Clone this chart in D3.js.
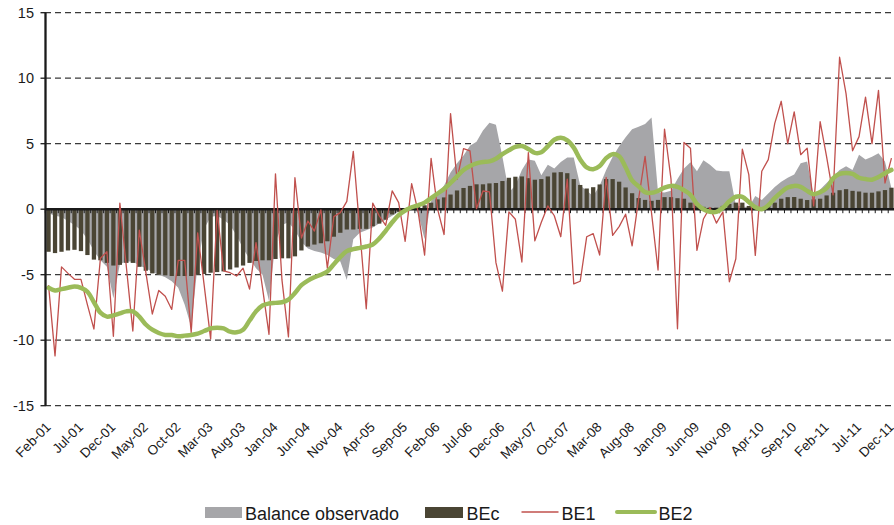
<!DOCTYPE html>
<html>
<head>
<meta charset="utf-8">
<script src="https://cdn.jsdelivr.net/npm/d3@7/dist/d3.min.js"></script>
<style>
  html, body { margin: 0; padding: 0; background: #fff; }
  svg { display: block; }
  text { font-family: "Liberation Sans", Arial, sans-serif; fill: #1a1a1a; }
</style>
</head>
<body>
<svg id="chart" width="894" height="525"></svg>
<script>
// ---------- DATA ----------
const monthNames = ["Jan","Feb","Mar","Apr","May","Jun","Jul","Aug","Sep","Oct","Nov","Dec"];
// Monthly categories Feb-01 .. Dec-11 (131 months)
const categories = d3.range(131).map(i => {
  const m = (1 + i) % 12, y = 1 + Math.floor((1 + i) / 12);
  return monthNames[m] + "-" + String(y).padStart(2, "0");
});
const tickLabels = ["Feb-01","Jul-01","Dec-01","May-02","Oct-02","Mar-03","Aug-03","Jan-04","Jun-04","Nov-04",
  "Apr-05","Sep-05","Feb-06","Jul-06","Dec-06","May-07","Oct-07","Mar-08","Aug-08","Jan-09","Jun-09","Nov-09",
  "Apr-10","Sep-10","Feb-11","Jul-11","Dec-11"];
const yTicks = [15, 10, 5, 0, -5, -10, -15];

const balanceObservado = [
  -0.3,-0.5,-0.6,-0.9,-1.2,-1.6,-2.3,-3.2,-3.9,-4.4,
  -6.8,-4.2,-4.0,-4.0,-4.3,-4.5,-4.8,-5.0,-5.2,-5.5,
  -6.0,-7.3,-9.0,-4.2,-1.5,-0.6,-0.5,-0.8,-1.2,-2.0,
  -3.0,-3.8,-4.5,-5.0,-7.0,-2.5,-1.2,-1.0,-1.6,-2.5,
  -3.0,-3.2,-3.3,-3.5,-3.8,-4.0,-5.4,-2.3,-1.8,-1.6,
  -1.4,-1.1,-0.8,-0.5,-0.2,0.1,0.2,-0.3,-2.3,0.6,
  1.2,1.8,2.8,3.5,4.1,4.85,5.15,6.0,6.6,6.45,
  4.0,1.3,1.8,3.0,3.8,3.7,2.6,3.4,3.1,3.6,
  3.95,3.95,1.8,1.4,1.0,1.8,3.0,4.0,4.8,5.5,
  6.1,6.3,6.5,7.0,1.3,1.28,1.4,2.3,3.1,3.58,
  2.9,3.73,3.4,2.95,2.9,2.9,0.3,0.2,0.15,1.0,
  0.7,1.2,1.7,2.1,2.4,2.65,3.5,3.65,1.0,1.5,
  2.0,2.5,3.0,3.27,3.0,4.15,3.8,4.0,4.28,3.65,1.6
];
const BEc = [
  -3.25,-3.35,-3.25,-3.15,-3.1,-3.2,-3.5,-3.85,-3.9,-4.1,
  -4.3,-4.25,-4.1,-4.1,-4.4,-4.7,-4.9,-5.0,-5.05,-5.1,
  -5.1,-5.1,-5.1,-5.0,-4.95,-4.85,-4.8,-4.75,-4.6,-4.45,
  -4.3,-4.1,-3.95,-3.9,-3.9,-3.8,-3.75,-3.75,-3.6,-3.15,
  -2.85,-2.7,-2.6,-2.45,-2.1,-1.8,-1.55,-1.55,-1.5,-1.5,
  -1.3,-1.1,-0.8,-0.4,-0.2,0.0,0.1,0.2,0.3,0.5,
  0.75,0.9,1.12,1.43,1.62,1.78,1.9,1.9,1.97,2.0,
  2.15,2.4,2.48,2.5,2.37,2.25,2.3,2.5,2.8,2.83,
  2.75,2.3,1.85,1.58,1.68,1.89,2.3,2.3,2.1,1.66,
  1.22,0.85,0.71,0.64,0.71,0.92,0.92,0.84,0.8,0.5,
  0.28,0.18,0.12,0.12,0.25,0.4,0.5,0.5,0.25,0.05,
  0.1,0.25,0.5,0.8,0.92,0.93,0.8,0.7,0.75,0.8,
  1.05,1.26,1.45,1.53,1.4,1.35,1.26,1.26,1.36,1.46,1.64
];
const BE1 = [
  -5.8,-11.2,-4.4,-4.9,-5.35,-5.35,-7.3,-9.15,-3.75,-3.25,
  -9.7,0.47,-4.4,-9.3,-1.6,-4.8,-8.0,-6.2,-6.65,-7.65,
  -3.9,-3.9,-9.4,-1.8,-5.8,-9.9,-0.1,-4.7,-4.85,-5.1,
  -4.5,-6.1,-2.55,-6.0,-9.55,2.7,-5.4,-9.75,2.4,-2.2,
  -0.9,-1.67,-0.05,-4.5,-0.57,-0.26,0.6,4.42,-1.6,-7.6,
  0.47,-0.5,-1.24,1.4,0.5,-2.45,1.95,-0.2,-3.5,3.88,
  0.0,-1.93,7.3,2.27,4.63,4.45,0.04,1.39,1.33,-4.08,
  -6.25,-0.2,-0.77,-4.03,4.32,-2.42,-1.0,0.25,-0.5,-2.1,
  2.3,-5.7,-5.5,-2.1,-1.86,-3.5,2.42,-2.0,-1.33,-0.38,
  -2.8,0.77,4.03,-0.3,-4.64,6.12,2.3,-9.13,5.1,4.66,
  -3.15,-0.75,0.13,-1.06,-0.2,-5.54,-3.78,4.58,2.64,-3.53,
  2.9,3.78,6.55,8.24,5.0,7.43,4.16,4.66,0.25,6.68,
  4.0,1.1,11.6,8.8,4.46,5.54,8.56,5.0,9.07,2.0,3.9
];
const BE2 = [
  -6.0,-6.2,-6.1,-6.0,-5.9,-6.0,-6.3,-7.1,-7.9,-8.2,
  -8.1,-7.95,-7.8,-7.8,-8.2,-8.8,-9.2,-9.45,-9.6,-9.6,
  -9.7,-9.65,-9.6,-9.5,-9.3,-9.1,-9.05,-9.1,-9.35,-9.4,
  -9.2,-8.5,-7.8,-7.35,-7.2,-7.15,-7.1,-6.9,-6.4,-5.8,
  -5.45,-5.2,-5.0,-4.75,-4.2,-3.65,-3.2,-3.05,-2.95,-2.85,
  -2.7,-2.25,-1.65,-1.0,-0.45,-0.1,0.15,0.3,0.5,0.85,
  1.2,1.55,2.0,2.5,3.0,3.3,3.5,3.6,3.65,3.85,
  4.2,4.5,4.75,4.82,4.6,4.3,4.35,4.8,5.3,5.45,
  5.25,4.7,3.8,3.2,3.05,3.3,3.9,4.2,4.05,3.2,
  2.2,1.75,1.3,1.25,1.4,1.65,1.78,1.7,1.45,1.1,
  0.4,0.0,-0.2,-0.2,0.1,0.6,0.95,0.95,0.55,0.15,
  0.0,0.3,0.85,1.3,1.65,1.78,1.7,1.4,1.15,1.3,
  1.6,2.35,2.7,2.77,2.7,2.4,2.3,2.25,2.45,2.75,3.0
];

// ---------- LAYOUT ----------
const svg = d3.select("#chart");
const x = d3.scaleBand().domain(categories).range([45.3, 894.7]).paddingInner(0.34).paddingOuter(0.17);
const cx = c => x(c) + x.bandwidth() / 2;
const y = d3.scaleLinear().domain([-15, 15]).range([405.7, 12.7]);

const colors = { area: "#A6A6A9", bar: "#4A4534", be1: "#C0504D", be2: "#9BBB59" };

// gridlines (dashed)
svg.append("g").selectAll("line").data(yTicks.filter(v => v !== 0)).join("line")
  .attr("x1", 45).attr("x2", 894)
  .attr("y1", d => y(d)).attr("y2", d => y(d))
  .attr("stroke", "#3a3a3a").attr("stroke-width", 1.2).attr("stroke-dasharray", "6,4");

// area (Balance observado)
const area = d3.area()
  .x((d, i) => cx(categories[i]))
  .y0(y(0)).y1(d => y(d));
svg.append("path").datum(balanceObservado)
  .attr("d", area).attr("fill", colors.area);

// bars (BEc)
svg.append("g").selectAll("rect").data(BEc).join("rect")
  .attr("x", (d, i) => x(categories[i]))
  .attr("width", x.bandwidth())
  .attr("y", d => Math.min(y(d), y(0)))
  .attr("height", d => Math.abs(y(d) - y(0)))
  .attr("fill", colors.bar);

// zero axis line with category ticks
svg.append("line").attr("x1", 45).attr("x2", 894).attr("y1", y(0)).attr("y2", y(0))
  .attr("stroke", "#1a1a1a").attr("stroke-width", 2.4);
svg.append("g").selectAll("line").data(categories).join("line")
  .attr("x1", c => x(c) - x.step() * x.paddingInner() / 2)
  .attr("x2", c => x(c) - x.step() * x.paddingInner() / 2)
  .attr("y1", y(0)).attr("y2", y(0) + 4)
  .attr("stroke", "#1a1a1a").attr("stroke-width", 1);

// BE1
const line1 = d3.line().x((d, i) => cx(categories[i])).y(d => y(d));
svg.append("path").datum(BE1).attr("d", line1)
  .attr("fill", "none").attr("stroke", colors.be1).attr("stroke-width", 1.3).attr("stroke-linejoin", "round");

// BE2 (smoothed)
const line2 = d3.line().x((d, i) => cx(categories[i])).y(d => y(d)).curve(d3.curveCatmullRom.alpha(0.5));
svg.append("path").datum(BE2).attr("d", line2)
  .attr("fill", "none").attr("stroke", colors.be2).attr("stroke-width", 4.5)
  .attr("stroke-linejoin", "round").attr("stroke-linecap", "round");

// Y axis
svg.append("line").attr("x1", 45.5).attr("x2", 45.5).attr("y1", y(15)).attr("y2", y(-15))
  .attr("stroke", "#1a1a1a").attr("stroke-width", 2.3);
const yg = svg.append("g");
yg.selectAll("line").data(yTicks).join("line")
  .attr("x1", 40.5).attr("x2", 45.5).attr("y1", d => y(d)).attr("y2", d => y(d))
  .attr("stroke", "#1a1a1a").attr("stroke-width", 1.3);
yg.selectAll("text").data(yTicks).join("text")
  .attr("x", 34).attr("y", d => y(d) + 5)
  .attr("text-anchor", "end").attr("font-size", 14.5)
  .text(d => d);

// X labels (rotated)
svg.append("g").selectAll("text").data(tickLabels).join("text")
  .attr("transform", d => `translate(${cx(d) + 3},428) rotate(-45)`)
  .attr("text-anchor", "end").attr("font-size", 13.5)
  .text(d => d);

// Legend
const lg = svg.append("g");
const fs = 18;
lg.append("rect").attr("x", 205).attr("y", 507).attr("width", 37).attr("height", 11).attr("fill", colors.area);
lg.append("text").attr("x", 245).attr("y", 519.5).attr("font-size", fs).text("Balance observado");
lg.append("rect").attr("x", 425).attr("y", 507).attr("width", 38).attr("height", 11).attr("fill", colors.bar);
lg.append("text").attr("x", 466.5).attr("y", 519.5).attr("font-size", fs).text("BEc");
lg.append("line").attr("x1", 521.5).attr("x2", 558.5).attr("y1", 512).attr("y2", 512)
  .attr("stroke", colors.be1).attr("stroke-width", 1.3);
lg.append("text").attr("x", 561.5).attr("y", 519.5).attr("font-size", fs).text("BE1");
lg.append("line").attr("x1", 617).attr("x2", 655).attr("y1", 512).attr("y2", 512)
  .attr("stroke", colors.be2).attr("stroke-width", 4).attr("stroke-linecap", "round");
lg.append("text").attr("x", 658.5).attr("y", 519.5).attr("font-size", fs).text("BE2");
</script>
</body>
</html>
